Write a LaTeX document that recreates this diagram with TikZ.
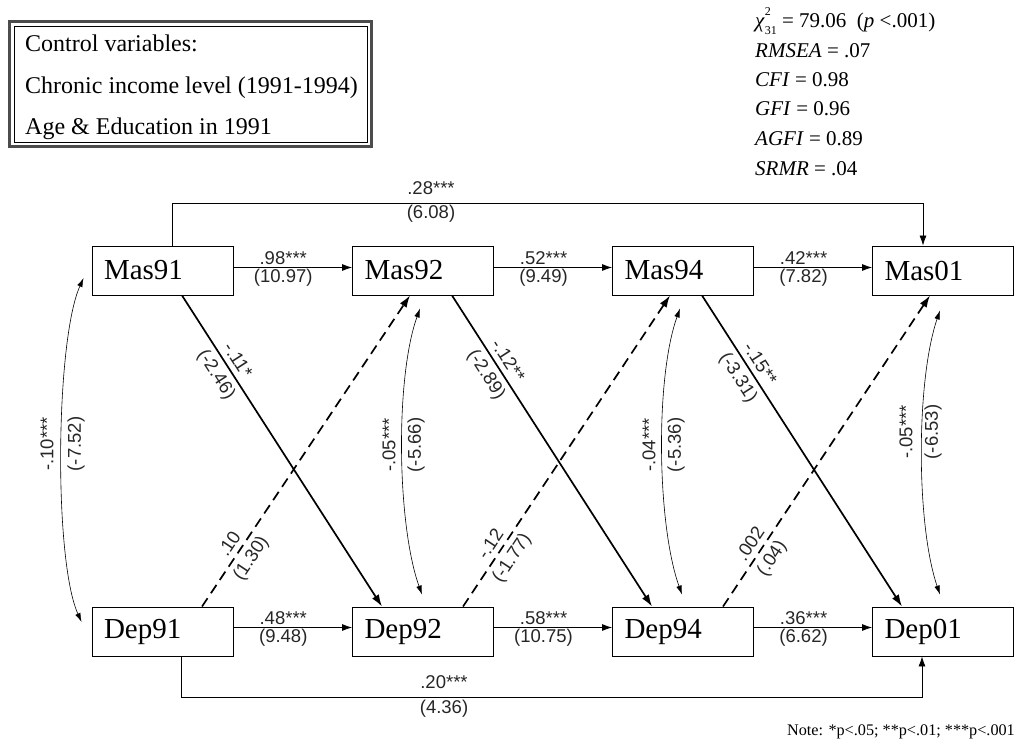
\documentclass[tikz,border=0pt]{standalone}
\usepackage{fontspec}
\setmainfont{Liberation Serif}
\newfontfamily\labfont{Liberation Sans}
\usetikzlibrary{arrows.meta}
\begin{document}
\begin{tikzpicture}[x=1pt,y=-1pt,
  box/.style={draw, line width=0.9pt, minimum width=141pt, minimum height=49pt,
    inner xsep=12pt, text width=117pt, align=left, font=\fontsize{29}{31}\selectfont},
  lab/.style={font=\labfont\fontsize{18.5}{20}\selectfont, inner sep=1pt, text=black!85},
  harr/.style={-{Latex[length=10pt,width=7pt]}, line width=0.8pt},
  darr/.style={-{Latex[length=12pt,width=8pt]}, line width=1.7pt},
  dsh/.style={darr, dash pattern=on 10pt off 6pt},
  cov/.style={{Latex[length=9pt,width=5.5pt]}-{Latex[length=9pt,width=5.5pt]}, line width=0.6pt},
  stat/.style={anchor=base west, inner sep=0pt, font=\fontsize{21}{24}\selectfont},
  ctl/.style={anchor=base west, inner sep=0pt, font=\fontsize{24}{27}\selectfont},
  note/.style={anchor=base east, inner sep=0pt, font=\fontsize{16.2}{18}\selectfont}
]
\useasboundingbox (0,0) rectangle (1021,750);

% control variables box
\draw[line width=2.5pt, black!70] (9.5,21.5) rectangle (371.5,146.5);
\draw[line width=0.9pt] (14,26) rectangle (367,142);
\node[ctl] (c1) at (25,51) {Control variables:};
\node[ctl] (c2) at (25,93) {Chronic income level (1991-1994)};
\node[ctl] (c3) at (25,134) {Age \& Education in 1991};

% fit statistics
\node[stat] (s1) at (755,27) {\textit{χ}\rlap{\raisebox{0.55em}{\fontsize{12}{12}\selectfont 2}}\raisebox{-0.35em}{\fontsize{12}{12}\selectfont 31} = 79.06 ~(\textit{p} <.001)};
\node[stat] (s2) at (755,57) {\textit{RMSEA} = .07};
\node[stat] (s3) at (755,86) {\textit{CFI} = 0.98};
\node[stat] (s4) at (755,115) {\textit{GFI} = 0.96};
\node[stat] (s5) at (755,145) {\textit{AGFI} = 0.89};
\node[stat] (s6) at (755,175) {\textit{SRMR} = .04};

% boxes
\node[box] (Mas91) at (162.5,270.5) {Mas91};
\node[box] (Mas92) at (423,270.5) {Mas92};
\node[box] (Mas94) at (683,270.5) {Mas94};
\node[box] (Mas01) at (943,270.5) {Mas01};
\node[box] (Dep91) at (162.5,631.5) {Dep91};
\node[box] (Dep92) at (423,631.5) {Dep92};
\node[box] (Dep94) at (683,631.5) {Dep94};
\node[box] (Dep01) at (943,631.5) {Dep01};

% horizontal paths
\draw[harr] ([yshift=3pt]Mas91.east) -- node[lab,above=1.5pt,pos=.42] (m1a) {.98***} node[lab,below=0.5pt,pos=.42] (m1b) {(10.97)} ([yshift=3pt]Mas92.west);
\draw[harr] ([yshift=3pt]Mas92.east) -- node[lab,above=1.5pt,pos=.42] (m2a) {.52***} node[lab,below=0.5pt,pos=.42] (m2b) {(9.49)} ([yshift=3pt]Mas94.west);
\draw[harr] ([yshift=3pt]Mas94.east) -- node[lab,above=1.5pt,pos=.42] (m3a) {.42***} node[lab,below=0.5pt,pos=.42] (m3b) {(7.82)} ([yshift=3pt]Mas01.west);
\draw[harr] ([yshift=4pt]Dep91.east) -- node[lab,above=1.5pt,pos=.42] (d1a) {.48***} node[lab,below=0.5pt,pos=.42] (d1b) {(9.48)} ([yshift=4pt]Dep92.west);
\draw[harr] ([yshift=4pt]Dep92.east) -- node[lab,above=1.5pt,pos=.42] (d2a) {.58***} node[lab,below=0.5pt,pos=.42] (d2b) {(10.75)} ([yshift=4pt]Dep94.west);
\draw[harr] ([yshift=4pt]Dep94.east) -- node[lab,above=1.5pt,pos=.42] (d3a) {.36***} node[lab,below=0.5pt,pos=.42] (d3b) {(6.62)} ([yshift=4pt]Dep01.west);

% long paths
\draw[harr] ([xshift=9.5pt]Mas91.north) -- ++(0,-42) -| ([xshift=-20pt]Mas01.north);
\node[lab] (t1) at (431,188) {.28***};
\node[lab] (t2) at (431,214) {(6.08)};
\draw[harr] ([xshift=18.5pt]Dep91.south) -- ++(0,41) -| ([xshift=-21pt]Dep01.south);
\node[lab] (b1) at (444,682) {.20***};
\node[lab] (b2) at (444,709) {(4.36)};

% cross-lagged solid
\draw[darr] ([xshift=19.5pt]Mas91.south) -- node[lab,sloped,above=4pt,pos=.23] (x1a) {-.11*} node[lab,sloped,below=4pt,pos=.23] (x1b) {(-2.46)} ([xshift=-41pt]Dep92.north);
\draw[darr] ([xshift=29pt]Mas92.south) -- node[lab,sloped,above=4pt,pos=.23] (x2a) {-.12**} node[lab,sloped,below=4pt,pos=.23] (x2b) {(-2.89)} ([xshift=-31pt]Dep94.north);
\draw[darr] ([xshift=19pt]Mas94.south) -- node[lab,sloped,above=4pt,pos=.24] (x3a) {-.15**} node[lab,sloped,below=4pt,pos=.24] (x3b) {(-3.31)} ([xshift=-41pt]Dep01.north);

% cross-lagged dashed
\draw[dsh] ([xshift=39.5pt]Dep91.north) -- node[lab,sloped,above=4pt,pos=.18] (y1a) {.10} node[lab,sloped,below=4pt,pos=.18] (y1b) {(1.30)} ([xshift=-13pt]Mas92.south);
\draw[dsh] ([xshift=40pt]Dep92.north) -- node[lab,sloped,above=4pt,pos=.18] (y2a) {-.12} node[lab,sloped,below=4pt,pos=.18] (y2b) {(-1.77)} ([xshift=-13pt]Mas94.south);
\draw[dsh] ([xshift=40pt]Dep94.north) -- node[lab,sloped,above=4pt,pos=.18] (y3a) {.002} node[lab,sloped,below=4pt,pos=.18] (y3b) {(.04)} ([xshift=-13pt]Mas01.south);

% covariances
\draw[cov] ([xshift=-8pt,yshift=-7.5pt]Mas91.west) .. controls +(-28,62) and +(-28,-62) .. ([xshift=-10pt,yshift=9.5pt]Dep91.west);
\node[lab,rotate=90] (v1a) at (47,444) {-.10***};
\node[lab,rotate=90] (v1b) at (76,444) {(-7.52)};
\draw[cov] ([xshift=-3pt,yshift=-13pt]Mas92.south) .. controls +(-25,70) and +(-25,-70) .. ([xshift=-1pt,yshift=12pt]Dep92.north);
\node[lab,rotate=90] (v2a) at (389,445) {-.05***};
\node[lab,rotate=90] (v2b) at (416,445) {(-5.66)};
\draw[cov] ([xshift=-3pt,yshift=-13pt]Mas94.south) .. controls +(-25,70) and +(-25,-70) .. ([xshift=-1pt,yshift=12pt]Dep94.north);
\node[lab,rotate=90] (v3a) at (649,445) {-.04***};
\node[lab,rotate=90] (v3b) at (676,445) {(-5.36)};
\draw[cov] ([xshift=-3pt,yshift=-15pt]Mas01.south) .. controls +(-24,70) and +(-24,-70) .. ([xshift=-3pt,yshift=12pt]Dep01.north);
\node[lab,rotate=90] (v4a) at (906,432) {-.05***};
\node[lab,rotate=90] (v4b) at (933,432) {(-6.53)};

% note
\node[note] (nt) at (1015,735) {Note: *p<.05; **p<.01; ***p<.001};
\end{tikzpicture}
\end{document}
